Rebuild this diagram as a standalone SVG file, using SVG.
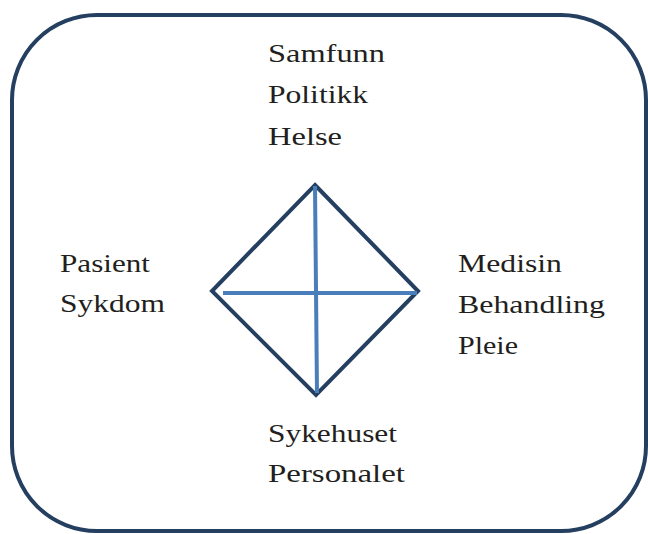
<svg xmlns="http://www.w3.org/2000/svg" width="648" height="534" viewBox="0 0 648 534">
<style>
.frame{fill:none;stroke:#243f60;stroke-width:4}
.dia{fill:none;stroke:#243f60;stroke-width:4;stroke-linejoin:miter}
.ax{stroke:#4a7ebb;stroke-width:4;fill:none}
text{font-family:"Liberation Serif","Times New Roman",serif;font-size:26px;fill:#231f20}
</style>
<rect width="648" height="534" fill="#ffffff"/>
<rect class="frame" x="12" y="15" width="634" height="516" rx="85" ry="85"/>
<g id="connectors">
<polygon class="dia" points="315,185 418,291 316,395 212,291"/>
<line class="ax" x1="315" y1="186" x2="317" y2="393"/>
<line class="ax" x1="223" y1="293" x2="417" y2="293"/>
</g>
<g id="node-top">
<text x="268" y="62" textLength="117" lengthAdjust="spacingAndGlyphs">Samfunn</text>
<text x="268" y="103" textLength="100" lengthAdjust="spacingAndGlyphs">Politikk</text>
<text x="268" y="145" textLength="74" lengthAdjust="spacingAndGlyphs">Helse</text>
</g>
<g id="node-left">
<text x="60" y="272" textLength="90" lengthAdjust="spacingAndGlyphs">Pasient</text>
<text x="60" y="312" textLength="105" lengthAdjust="spacingAndGlyphs">Sykdom</text>
</g>
<g id="node-right">
<text x="458" y="272" textLength="104" lengthAdjust="spacingAndGlyphs">Medisin</text>
<text x="458" y="313" textLength="147" lengthAdjust="spacingAndGlyphs">Behandling</text>
<text x="458" y="354" textLength="60" lengthAdjust="spacingAndGlyphs">Pleie</text>
</g>
<g id="node-bottom">
<text x="268" y="442" textLength="129" lengthAdjust="spacingAndGlyphs">Sykehuset</text>
<text x="268" y="482" textLength="137" lengthAdjust="spacingAndGlyphs">Personalet</text>
</g>
</svg>
